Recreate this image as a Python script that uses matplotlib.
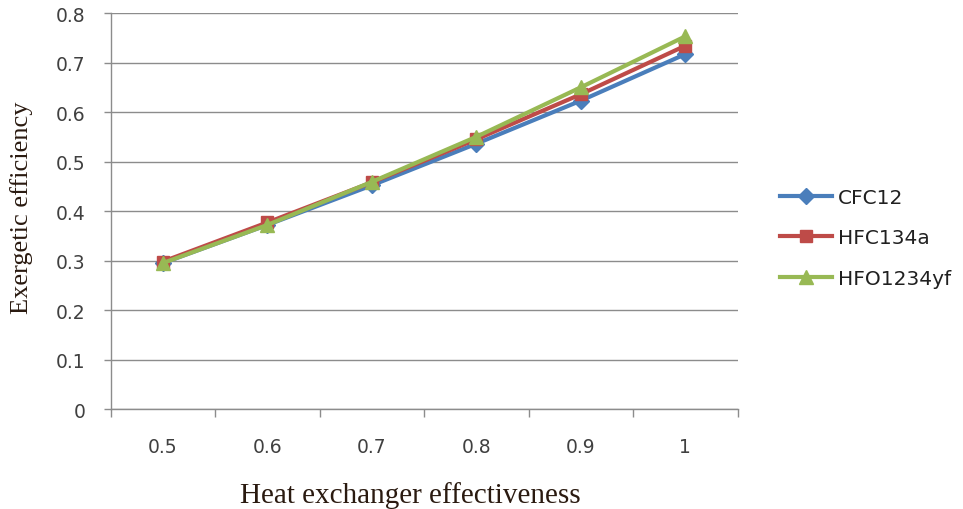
"""
Exergetic efficiency vs heat exchanger effectiveness for three refrigerants.
"""

import numpy as np
import matplotlib
matplotlib.use("Agg")
import matplotlib.pyplot as plt


# data
effectiveness = ["0.5", "0.6", "0.7", "0.8", "0.9", "1"]
cfc12 = [0.295, 0.372, 0.452, 0.536, 0.623, 0.717]
hfc134a = [0.298, 0.377, 0.458, 0.545, 0.636, 0.734]
hfo1234yf = [0.295, 0.372, 0.459, 0.550, 0.650, 0.753]

SERIES = [
    ("CFC12", cfc12, "#4A7EBB", "D", 8),
    ("HFC134a", hfc134a, "#BE4B48", "s", 9),
    ("HFO1234yf", hfo1234yf, "#98B954", "^", 10),
]

GRID = "#8c8c8c"
TICK_TXT = "#404040"

fig = plt.figure(figsize=(9.63, 5.10), dpi=100, facecolor="white")
ax = fig.add_axes([0.115, 0.196, 0.651, 0.7765])

x = np.arange(len(effectiveness))
for name, vals, col, mk, ms in SERIES:
    ax.plot(x, vals, color=col, linewidth=3, marker=mk, markersize=ms,
            markerfacecolor=col, markeredgecolor=col, label=name, zorder=3)

# axes limits: categorical axis, ticks between categories
ax.set_xlim(-0.5, len(effectiveness) - 0.5)
ax.set_ylim(0, 0.8)
ax.set_yticks(np.arange(0, 0.81, 0.1))
ax.set_yticklabels(["0"] + [f"{v:.1f}" for v in np.arange(0.1, 0.81, 0.1)])

ax.set_xticks(np.arange(-0.5, len(effectiveness), 1.0))
ax.set_xticklabels([])
ax.set_xticks(x, minor=True)
ax.set_xticklabels(effectiveness, minor=True)
ax.tick_params(axis="x", which="major", length=6, width=1, color=GRID,
               direction="out")
ax.tick_params(axis="x", which="minor", length=0, pad=20, labelsize=13.5,
               labelcolor=TICK_TXT)
ax.tick_params(axis="y", length=5, width=1, color=GRID, direction="out",
               labelsize=13.5, labelcolor=TICK_TXT, pad=13)

ax.grid(axis="y", color=GRID, linewidth=1)
ax.set_axisbelow(True)
for side in ("top", "right"):
    ax.spines[side].set_visible(False)
for side in ("left", "bottom"):
    ax.spines[side].set_color(GRID)
    ax.spines[side].set_linewidth(1)

ax.set_xlabel("Heat exchanger effectiveness", family="Liberation Serif",
              fontsize=21, color="#2a1a10")
ax.xaxis.set_label_coords(0.478, -0.182)
ax.set_ylabel("Exergetic efficiency", family="Liberation Serif",
              fontsize=19, color="#2a1a10")
ax.yaxis.set_label_coords(-0.124, 0.51)

ax.legend(loc="center left", bbox_to_anchor=(1.045, 0.432), frameon=False,
          fontsize=14.5, labelcolor="#202020", handlelength=2.6,
          labelspacing=1.05, handletextpad=0.3, borderaxespad=0.3)

fig.savefig("out.png", dpi=100, facecolor=fig.get_facecolor())
